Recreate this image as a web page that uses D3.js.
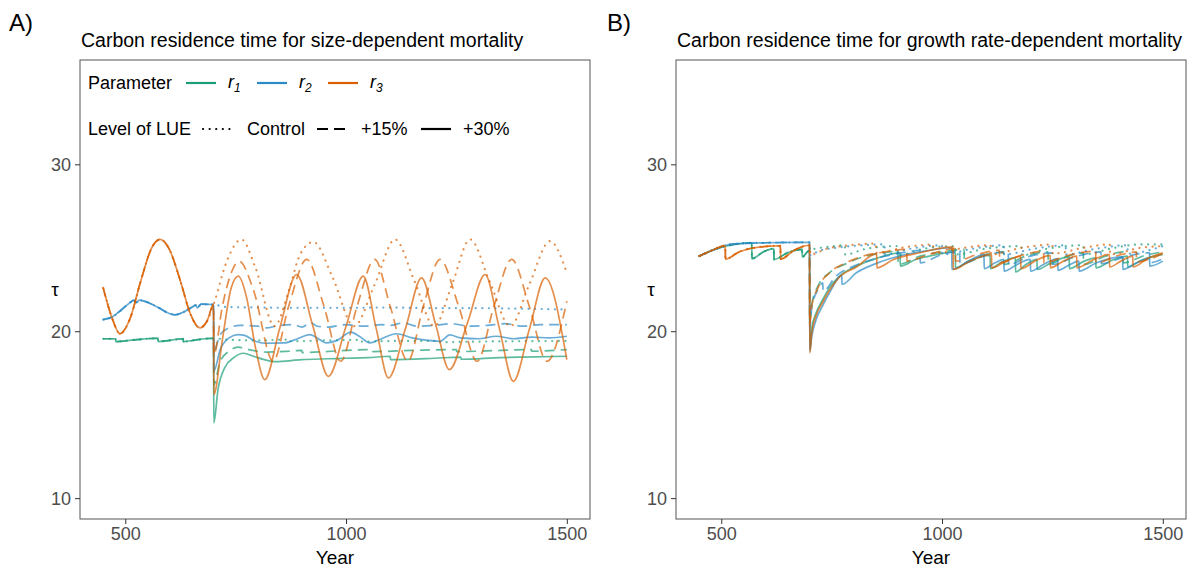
<!DOCTYPE html>
<html><head><meta charset="utf-8">
<script src="https://cdn.jsdelivr.net/npm/d3@7"></script>
<style>body{margin:0;background:#fff} text{font-family:"Liberation Sans",Arial,Helvetica,sans-serif}</style>
</head><body><svg id="c" width="1195" height="574"></svg>
<script>
// ---------- shared settings ----------
const params = ["r1", "r2", "r3"];
const paramColors = ["#1B9E77", "#2A8AC6", "#D95F02"];
const levels = ["Control", "+15%", "+30%"];
const yTicks = [10, 20, 30];
const xTicks = [500, 1000, 1500];
const xDomain = [450, 1500];
const yDomain = [10, 35];
const panelTitles = ["Carbon residence time for size-dependent mortality",
                     "Carbon residence time for growth rate-dependent mortality"];
const panelTags = ["A)", "B)"];

// ---------- Panel A data (year, tau) ----------
const A_pre_r1 = [[450,19.55],[478,19.55],[478.5,19.38],[520,19.48],[574,19.58],[574.5,19.38],[600,19.45],[631,19.55],[631.5,19.38],[665,19.5],[700,19.58]];
const A_pre_r2 = [[450,20.7],[470,20.85],[490,21.25],[510,21.7],[520,21.86],[525,21.72],[532,21.86],[550,21.74],[575,21.42],[600,21.06],[612,20.98],[630,21.12],[650,21.42],[660,21.56],[663,21.4],[672,21.62],[700,21.6]];
const A_pre_r3 = [[450,22.6],[470,20.8],[488,19.85],[510,20.7],[535,23.0],[560,25.0],[579,25.5],[600,24.9],[625,23.0],[648,21.0],[669,20.2],[685,20.6],[700,21.6]];

const A_r1_control = [[730,19.5],[800,19.45],[870,19.5],[870.5,19.4],[950,19.45],[1030,19.48],[1030.5,19.38],[1120,19.42],[1200,19.42],[1200.5,19.34],[1300,19.38],[1400,19.4],[1500,19.42]];
const A_r1_p15 = [[700.5,16.8],[715,18.2],[735,18.8],[755,19.05],[780,18.9],[820,18.75],[870,18.8],[900,18.85],[900.5,18.72],[980,18.82],[1060,18.9],[1060.5,18.78],[1150,18.85],[1250,18.9],[1250.5,18.78],[1350,18.85],[1420,18.9],[1420.5,18.8],[1500,18.9]];
const A_r1_p30 = [[700.5,14.5],[710,16.5],[725,17.8],[745,18.4],[768,18.68],[790,18.5],[815,18.3],[840,18.18],[900,18.3],[960,18.35],[1000,18.38],[1050,18.42],[1100,18.5],[1100.5,18.3],[1200,18.38],[1260,18.45],[1260.5,18.32],[1350,18.42],[1400,18.45],[1500,18.5]];

const A_r2_control = [[730,21.45],[800,21.42],[900,21.4],[1000,21.4],[1100,21.42],[1200,21.38],[1300,21.38],[1400,21.35],[1500,21.3]];
const A_r2_p15 = [[700.5,18.8],[715,19.8],[735,20.2],[760,20.35],[800,20.3],[820,20.2],[840,20.3],[880,20.4],[900,20.25],[920,20.5],[935,20.3],[960,20.25],[1000,20.4],[1040,20.3],[1080,20.4],[1100,20.35],[1130,20.5],[1160,20.3],[1200,20.35],[1240,20.45],[1280,20.3],[1320,20.35],[1360,20.45],[1400,20.3],[1440,20.4],[1500,20.4]];
const A_r2_p30 = [[700.5,17.6],[715,18.9],[735,19.6],[755,19.8],[770,19.75],[795,19.4],[815,19.28],[860,19.3],[890,19.55],[918,19.8],[940,19.5],[955,19.3],[980,19.45],[1011,19.95],[1030,19.7],[1054,19.3],[1080,19.55],[1114,19.85],[1150,19.6],[1185,19.45],[1213,19.4],[1235,19.78],[1260,19.6],[1300,19.55],[1340,19.7],[1380,19.55],[1420,19.65],[1460,19.6],[1500,19.7]];

const A_r3_control = [[730,24.2],[763,25.5],[795,23.8],[838,20.3],[870,22.4],[896,24.6],[926,25.35],[970,23.2],[1018,20.3],[1065,22.8],[1111,25.5],[1155,23.0],[1200,20.3],[1240,22.8],[1281,25.5],[1325,23.0],[1372,20.3],[1415,22.8],[1462,25.4],[1500,23.5]];
const A_r3_p15 = [[700.5,18.6],[720,21.5],[740,23.5],[758,24.2],[790,22.5],[835,18.2],[870,21.5],[911,24.3],[950,21.5],[988,18.2],[1025,21.5],[1065,24.3],[1100,21.5],[1140,18.2],[1175,21.5],[1213,24.3],[1255,21.5],[1297,18.2],[1335,21.5],[1375,24.3],[1415,21.5],[1455,18.2],[1500,21.8]];
const A_r3_p30 = [[700.5,16.2],[720,19.5],[740,22.6],[756,23.3],[775,22.0],[795,19.0],[816,17.1],[850,20.2],[888,23.4],[925,20.3],[960,17.3],[1000,20.3],[1039,23.3],[1068,20.2],[1096,17.2],[1135,20.2],[1171,23.2],[1203,20.4],[1234,17.7],[1275,20.5],[1315,23.4],[1347,20.2],[1379,17.0],[1415,20.1],[1451,23.2],[1500,18.3]];

// ---------- Panel B data (year, tau) ----------
const B_pre_r1 = [[450,24.5],[490,24.95],[530,25.2],[569,25.3],[569.5,24.35],[595,24.75],[619,24.95],[619.5,24.3],[650,24.7],[683,24.9],[683.5,24.45],[700,24.85]];
const B_pre_r2 = [[450,24.5],[480,24.85],[510,25.15],[540,25.25],[600,25.3],[700,25.33]];
const B_pre_r3 = [[450,24.5],[480,24.85],[509,25.13],[509.5,24.32],[540,24.75],[575,25.0],[634,25.12],[634.5,24.32],[665,24.85],[700,25.15]];

const B_r1_control = [[740,25.05],[780,25.15],[780.5,24.6],[830,24.95],[900,25.1],[900.5,24.55],[960,24.95],[1030,25.1],[1030.5,24.6],[1100,24.95],[1180,25.1],[1180.5,24.55],[1240,24.95],[1320,25.15],[1320.5,24.6],[1390,25.0],[1450,25.2],[1500,25.2]];
const B_r1_p15 = [[700.5,20.6],[705,21.6],[719,22.7],[745,23.5],[783,24.05],[821,24.45],[870,24.7],[900,24.8],[900.5,24.0],[950,24.5],[1000,24.75],[1050,24.9],[1050.5,24.1],[1100,24.6],[1140,24.75],[1140.5,24.0],[1190,24.5],[1240,24.75],[1240.5,24.0],[1280,24.45],[1320,24.7],[1320.5,24.0],[1370,24.5],[1410,24.75],[1410.5,24.1],[1460,24.55],[1500,24.75]];
const B_r1_p30 = [[700.5,18.9],[705,20.2],[715,21.1],[730,21.9],[745,22.6],[768,23.3],[806,23.9],[850,24.35],[905,24.7],[905.5,23.9],[940,24.3],[980,24.55],[1030,24.75],[1030.5,23.8],[1060,24.2],[1109,24.55],[1109.5,23.75],[1135,24.15],[1166,24.4],[1166.5,23.55],[1190,24.0],[1215,24.3],[1215.5,23.7],[1250,24.15],[1288,24.45],[1288.5,23.75],[1322,24.2],[1348,24.4],[1348.5,23.8],[1385,24.25],[1420,24.5],[1420.5,23.85],[1455,24.3],[1500,24.6]];

const B_r2_control = [[702,24.55],[720,24.8],[760,25.0],[820,25.15],[870,25.2],[870.5,24.6],[930,24.95],[1000,25.15],[1000.5,24.6],[1070,24.95],[1140,25.15],[1140.5,24.6],[1210,24.95],[1280,25.15],[1280.5,24.6],[1350,24.95],[1420,25.15],[1420.5,24.65],[1500,25.1]];
const B_r2_p15 = [[700.5,20.3],[705,21.4],[719,22.5],[730,22.9],[730.5,22.4],[760,23.3],[800,23.9],[850,24.35],[900,24.65],[950,24.85],[950.5,24.1],[1000,24.6],[1040,24.8],[1040.5,24.0],[1090,24.5],[1150,24.75],[1150.5,24.0],[1200,24.5],[1250,24.7],[1250.5,24.0],[1300,24.45],[1360,24.75],[1360.5,24.05],[1420,24.5],[1470,24.7],[1470.5,24.1],[1500,24.35]];
const B_r2_p30 = [[700.5,18.8],[705,19.7],[715,20.7],[730,21.55],[745,22.3],[773,23.35],[773.5,22.8],[806,23.5],[850,24.05],[910,24.55],[960,24.8],[1022,25.0],[1022.5,23.7],[1060,24.2],[1095,24.6],[1095.5,23.75],[1120,24.1],[1140,24.3],[1140.5,23.6],[1170,24.0],[1200,24.3],[1200.5,23.6],[1230,24.0],[1262,24.35],[1262.5,23.65],[1290,24.0],[1310,24.2],[1310.5,23.6],[1350,24.1],[1409,24.45],[1409.5,23.7],[1440,24.1],[1470,24.35],[1470.5,23.9],[1500,24.2]];

const B_r3_control = [[702,24.6],[740,24.95],[790,25.15],[850,25.25],[850.5,24.7],[920,25.05],[980,25.2],[980.5,24.65],[1050,25.0],[1110,25.15],[1110.5,24.6],[1180,25.0],[1250,25.2],[1250.5,24.65],[1320,25.0],[1380,25.2],[1380.5,24.6],[1450,25.0],[1500,25.1]];
const B_r3_p15 = [[700.5,20.4],[705,21.5],[719,22.6],[745,23.5],[783,24.1],[821,24.5],[870,24.75],[920,24.9],[920.5,24.2],[970,24.6],[1030,24.95],[1030.5,24.2],[1080,24.6],[1130,24.85],[1130.5,24.1],[1180,24.55],[1230,24.8],[1230.5,24.1],[1280,24.5],[1348,24.8],[1348.5,24.1],[1400,24.55],[1440,24.75],[1440.5,24.15],[1500,24.65]];
const B_r3_p30 = [[700.5,18.7],[705,19.9],[715,20.95],[730,21.75],[745,22.45],[768,23.25],[806,23.85],[852,24.65],[852.5,23.8],[890,24.3],[950,24.7],[1025,25.05],[1025.5,23.7],[1060,24.15],[1112,24.6],[1112.5,23.8],[1145,24.2],[1178,24.5],[1178.5,23.75],[1210,24.2],[1245,24.55],[1245.5,23.8],[1275,24.2],[1305,24.5],[1305.5,23.8],[1340,24.25],[1379,24.6],[1379.5,23.85],[1405,24.2],[1432,24.5],[1432.5,23.85],[1465,24.35],[1500,24.7]];

// ---------- assemble series ----------
const panelA = [
  {p:0, l:0, pts:A_pre_r1.concat(A_r1_control)}, {p:0, l:1, pts:A_pre_r1.concat(A_r1_p15)}, {p:0, l:2, pts:A_pre_r1.concat(A_r1_p30)},
  {p:1, l:0, pts:A_pre_r2.concat(A_r2_control)}, {p:1, l:1, pts:A_pre_r2.concat(A_r2_p15)}, {p:1, l:2, pts:A_pre_r2.concat(A_r2_p30)},
  {p:2, l:0, pts:A_pre_r3.concat(A_r3_control)}, {p:2, l:1, pts:A_pre_r3.concat(A_r3_p15)}, {p:2, l:2, pts:A_pre_r3.concat(A_r3_p30)}
];
const panelB = [
  {p:0, l:0, pts:B_pre_r1.concat(B_r1_control)}, {p:0, l:1, pts:B_pre_r1.concat(B_r1_p15)}, {p:0, l:2, pts:B_pre_r1.concat(B_r1_p30)},
  {p:1, l:0, pts:B_pre_r2.concat(B_r2_control)}, {p:1, l:1, pts:B_pre_r2.concat(B_r2_p15)}, {p:1, l:2, pts:B_pre_r2.concat(B_r2_p30)},
  {p:2, l:0, pts:B_pre_r3.concat(B_r3_control)}, {p:2, l:1, pts:B_pre_r3.concat(B_r3_p15)}, {p:2, l:2, pts:B_pre_r3.concat(B_r3_p30)}
];

const dashes = ["0.1,6.5", "10,6", null];
const svg = d3.select("#c");
const tickGray = "#4D4D4D";

function drawPanel(idx, series, box) {
  const x = d3.scaleLinear().domain([xDomain[0] - 0.05*(xDomain[1]-xDomain[0]), xDomain[1] + 0.05*(xDomain[1]-xDomain[0])]).range([box.l, box.r]);
  const y = d3.scaleLinear().domain([yDomain[0] - 0.05*(yDomain[1]-yDomain[0]), yDomain[1] + 0.05*(yDomain[1]-yDomain[0])]).range([box.b, box.t]);
  const g = svg.append("g");
  const cid = "clip" + idx;
  svg.append("clipPath").attr("id", cid).append("rect")
    .attr("x", box.l).attr("y", box.t).attr("width", box.r - box.l).attr("height", box.b - box.t);
  const line = d3.line().x(d => x(d[0])).y(d => y(d[1])).curve(d3.curveMonotoneX);
  const lg = g.append("g").attr("clip-path", `url(#${cid})`);
  series.forEach(s => {
    lg.append("path").attr("d", line(s.pts)).attr("fill", "none")
      .attr("stroke", paramColors[s.p]).attr("stroke-opacity", 0.7)
      .attr("stroke-width", s.l === 0 ? 2.2 : 1.7)
      .attr("stroke-linecap", s.l === 0 ? "round" : "butt")
      .attr("stroke-linejoin", "round")
      .attr("stroke-dasharray", dashes[s.l]);
  });
  // border
  g.append("rect").attr("x", box.l).attr("y", box.t).attr("width", box.r - box.l).attr("height", box.b - box.t)
    .attr("fill", "none").attr("stroke", "#555").attr("stroke-width", 1);
  // axes
  const ax = g.append("g").attr("transform", `translate(0,${box.b})`)
    .call(d3.axisBottom(x).tickValues(xTicks).tickSize(5).tickPadding(3).tickFormat(d3.format("d")));
  const ay = g.append("g").attr("transform", `translate(${box.l},0)`)
    .call(d3.axisLeft(y).tickValues(yTicks).tickSize(5).tickPadding(4));
  [ax, ay].forEach(a => {
    a.select(".domain").remove();
    a.selectAll(".tick line").attr("stroke", "#333").attr("stroke-width", 1);
    a.selectAll(".tick text").attr("fill", tickGray).style("font-size", "18px")
      .style("font-family", '"Liberation Sans",Arial,sans-serif');
  });
  ay.selectAll(".tick text").attr("dy", "0.36em");
  // titles
  g.append("text").attr("x", (box.l + box.r) / 2).attr("y", box.b + 45).attr("text-anchor", "middle")
    .style("font-size", "19px").text("Year");
  g.append("text").attr("x", box.l - 25).attr("y", (box.t + box.b) / 2 + 6).attr("text-anchor", "middle")
    .style("font-size", "19px").text("τ");
  g.append("text").attr("x", box.l + 1).attr("y", 47).style("font-size", "19.5px").text(panelTitles[idx]);
  g.append("text").attr("x", box.tagX).attr("y", 31).style("font-size", "24px").text(panelTags[idx]);
  return g;
}

drawPanel(0, panelA, {l:80, r:590, t:60, b:519, tagX:9});
drawPanel(1, panelB, {l:676, r:1186, t:60, b:519, tagX:607});

// ---------- legend (inside panel A) ----------
const leg = svg.append("g");
const fs = "18px";
leg.append("text").attr("x", 88).attr("y", 89).style("font-size", fs).text("Parameter");
const keyX = [186, 257, 328];
params.forEach((p, i) => {
  leg.append("line").attr("x1", keyX[i]).attr("x2", keyX[i] + 30).attr("y1", 83).attr("y2", 83)
    .attr("stroke", paramColors[i]).attr("stroke-width", 2.2);
  const t = leg.append("text").attr("x", keyX[i] + 42).attr("y", 88).style("font-size", fs).style("font-style", "italic");
  t.append("tspan").text("r");
  t.append("tspan").attr("dy", 4).style("font-size", "12px").text(p.slice(1));
});
leg.append("text").attr("x", 88).attr("y", 135).style("font-size", fs).text("Level of LUE");
const lkX = [203, 317, 421];
const lkText = [247, 361, 463];
levels.forEach((lv, i) => {
  leg.append("line").attr("x1", lkX[i]).attr("x2", lkX[i] + 30).attr("y1", 129).attr("y2", 129)
    .attr("stroke", "#000").attr("stroke-width", 2.2)
    .attr("stroke-linecap", i === 0 ? "round" : "butt")
    .attr("stroke-dasharray", i === 0 ? "0.1,6.5" : (i === 1 ? "11,6" : null));
  leg.append("text").attr("x", lkText[i]).attr("y", 135).style("font-size", fs).text(lv);
});
</script></body></html>
